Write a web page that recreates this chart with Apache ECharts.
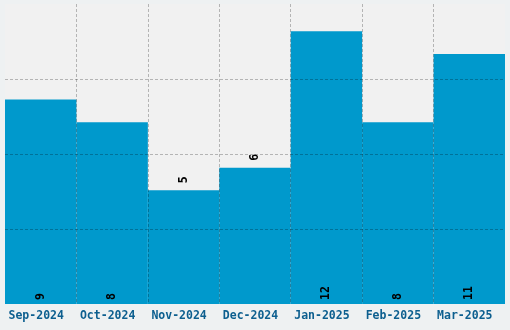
<!DOCTYPE html>
<html><head><meta charset="utf-8">
<script src="https://cdn.jsdelivr.net/npm/echarts@6/dist/echarts.min.js"></script>
<style>html,body{margin:0;padding:0;background:#eef1f2;}#c{width:510px;height:330px;}</style>
</head><body><div id="c"></div>
<script>
const categories = ['Sep-2024','Oct-2024','Nov-2024','Dec-2024','Jan-2025','Feb-2025','Mar-2025'];
const values = [9, 8, 5, 6, 12, 8, 11];

const chart = echarts.init(document.getElementById('c'), null, {renderer:'canvas'});
const font = '"DejaVu Sans Mono", monospace';
const data = values.map(v => ({
  value: v,
  label: v <= 6
    ? {position: 'top', distance: 7}
    : {position: 'insideBottom', distance: 4}
}));
chart.setOption({
  animation: false,
  backgroundColor: '#eef1f2',
  grid: {left: 5, right: 5, top: 4, bottom: 26, show: true, backgroundColor: '#f1f1f1', borderWidth: 0},
  xAxis: {
    type: 'category', data: categories, z: 5,
    axisLine: {show: false}, axisTick: {show: false},
    axisLabel: {interval: 0, color: '#0d5f8f', fontFamily: font, fontWeight: 'bold', fontSize: 11.5, margin: 6,
      padding: [0, 9, 0, 0]},
    splitLine: {show: true, interval: 0, showMinLine: false, showMaxLine: false,
      lineStyle: {color: 'rgba(0,0,0,0.25)', type: [3, 2], width: 1}}
  },
  yAxis: {
    type: 'value', min: 0, max: 13.2, interval: 3.3, z: 5,
    axisLine: {show: false}, axisTick: {show: false}, axisLabel: {show: false},
    splitLine: {show: true, showMinLine: false, showMaxLine: false,
      lineStyle: {color: 'rgba(0,0,0,0.25)', type: [3, 2], width: 1}}
  },
  series: [{
    type: 'bar', data: data, barWidth: '100%', z: 1,
    itemStyle: {color: '#0099cc'},
    label: {show: true, rotate: 90, align: 'left', verticalAlign: 'middle',
      color: '#000', fontFamily: font, fontWeight: 'bold', fontSize: 11.5}
  }]
});
</script></body></html>
